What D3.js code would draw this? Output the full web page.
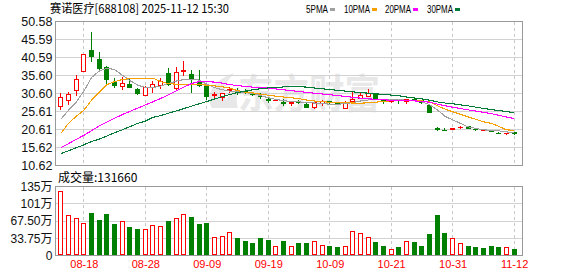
<!DOCTYPE html>
<html><head><meta charset="utf-8">
<script src="https://cdn.jsdelivr.net/npm/d3@7"></script>
<style>body{margin:0;background:#fff}svg{display:block}</style>
</head><body><svg id="c" width="578" height="276"></svg>
<script>
const title = "赛诺医疗[688108] 2025-11-12 15:30";
const volLabel = "成交量:131660";
const maNames = ["5PMA","10PMA","20PMA","30PMA"];
const dates = ["08-13","08-14","08-15","08-18","08-19","08-20","08-21","08-22","08-25","08-26","08-27","08-28","08-29",
"09-01","09-02","09-03","09-04","09-05","09-08","09-09","09-10","09-11","09-12","09-15","09-16","09-17","09-18","09-19","09-22","09-23","09-24","09-25","09-26","09-29","09-30",
"10-09","10-10","10-13","10-14","10-15","10-16","10-17","10-20","10-21","10-22","10-23","10-24","10-27","10-28","10-29","10-30","10-31",
"11-03","11-04","11-05","11-06","11-07","11-10","11-11","11-12"];
const open  = [26.87,28.55,31.34,36.64,42.69,40.18,37.86,33.68,32.28,33.12,31.81,29.94,32.17,32.65,36.2,31.81,36.64,35.91,34.04,32.93,29.94,29.4,31.25,31.06,31.2,30.61,29.94,29.02,28.55,28.27,27.63,28.3,27.8,26.5,27.82,28.4,28.18,26.43,28.27,29.2,29.66,30.42,28.94,28.38,28.9,28.27,29.2,28.74,27.35,21.02,20.6,20.57,21.2,21.49,20.8,20.2,20.57,19.75,19.25,19.9];
const high  = [30.6,31.06,35.71,41.6,47.62,42.0,38.31,34.8,35.24,34.8,32.2,32.6,34.04,34.96,37.58,38.03,39.62,37.11,37.11,33.1,30.89,30.7,32.45,32.0,31.73,30.95,30.61,29.66,29.2,28.94,28.4,28.9,28.0,28.5,28.9,28.6,28.3,28.4,31.06,31.06,31.73,30.6,29.2,29.2,29.0,29.2,29.66,28.9,27.8,21.3,21.02,21.1,21.7,21.6,21.0,20.6,20.6,20.0,19.7,20.0];
const low   = [25.95,27.35,29.94,36.5,39.42,37.2,32.93,32.0,31.53,32.0,30.3,29.8,30.61,31.81,32.65,31.6,35.52,30.61,32.5,28.74,29.4,28.46,30.61,30.12,30.5,29.9,28.94,28.0,28.4,27.2,27.07,27.6,26.6,26.4,27.2,27.6,27.4,26.3,28.1,29.0,29.5,29.0,27.82,27.9,27.6,27.63,28.4,27.7,25.2,20.2,20.2,20.4,20.8,20.7,20.3,20.1,19.8,19.3,19.2,19.2];
const close = [29.66,30.33,34.51,41.49,40.82,37.39,34.32,32.73,33.4,32.0,30.5,32.45,33.12,34.04,32.93,36.64,37.11,34.6,32.73,29.66,30.33,30.61,31.73,30.7,30.65,30.05,29.5,28.55,28.74,27.82,28.27,28.1,26.71,28.27,28.55,28.0,27.63,28.27,28.94,30.12,30.61,29.2,28.55,28.94,28.6,28.94,28.55,28.0,25.2,20.57,20.4,21.02,21.4,20.85,20.5,20.4,19.9,19.55,19.62,19.3];
const volume = [125.8,78.6,72.7,62.9,82.6,68.8,80.6,60.9,68.2,55.0,51.1,51.1,60.3,58.3,66.8,74.0,81.9,74.7,60.9,62.9,35.4,38.7,46.5,33.4,27.5,23.6,33.4,29.5,17.7,27.5,17.7,24.9,24.9,28.8,21.0,17.7,15.7,19.0,48.5,44.6,36.7,26.9,17.7,13.1,15.7,28.8,25.6,17.7,41.3,78.6,43.3,34.7,24.9,17.7,15.7,13.8,17.7,15.7,15.7,13.17];
const ma5  = [23.44,25.95,28.18,31.25,35.02,36.83,37.58,37.25,35.71,34.18,32.93,32.28,32.28,32.65,33.34,34.04,34.46,34.6,34.32,33.2,32.23,31.67,31.25,31.06,30.83,30.61,30.0,29.44,28.94,28.6,28.41,28.27,28.1,27.96,27.82,27.63,27.63,27.77,28.1,28.52,28.8,29.02,29.02,28.94,28.88,28.74,28.66,28.32,27.49,26.09,24.28,23.3,22.33,21.35,20.93,20.51,20.38,20.24,19.96,19.68];
const ma10 = [19.54,22.33,24.28,25.95,28.74,30.97,33.07,33.9,34.46,34.74,34.88,34.88,34.88,33.9,33.34,33.2,33.2,33.2,33.06,32.93,32.7,32.48,32.09,31.39,30.97,30.75,30.42,30.14,29.86,29.63,29.44,29.16,28.8,28.52,28.32,28.18,28.1,28.02,27.96,27.91,28.02,28.18,28.41,28.57,28.6,28.6,28.6,28.52,28.32,27.21,26.29,25.53,24.84,24.14,23.44,22.75,22.33,21.49,20.51,20.38];
const ma20 = [15.55,16.69,17.87,18.98,20.29,21.57,22.66,23.72,24.75,25.65,26.51,27.43,28.32,29.22,30.22,31.31,32.37,33.34,33.9,33.9,33.76,33.48,33.07,32.79,32.56,32.37,32.23,32.09,31.87,31.61,31.39,31.17,30.92,30.69,30.47,30.25,30.03,29.77,29.55,29.33,29.13,28.97,28.85,28.74,28.69,28.63,28.55,28.41,28.18,27.68,27.21,26.79,26.43,26.06,25.73,25.4,25.03,24.56,24.08,23.64];
const ma30 = [13.88,14.71,15.52,16.36,17.28,17.92,18.81,19.71,20.51,21.41,22.3,22.94,23.97,24.47,25.12,25.73,26.4,27.07,27.74,28.38,29.05,29.72,30.33,30.83,31.28,31.64,31.92,32.14,32.28,32.42,32.5,32.5,32.37,32.14,31.92,31.7,31.5,31.28,31.06,30.86,30.69,30.53,30.33,30.16,29.97,29.63,29.38,29.1,28.74,28.27,27.96,27.74,27.46,27.18,26.82,26.46,26.15,25.87,25.59,25.31];
const priceTicks = [10.62,15.62,20.61,25.61,30.60,35.60,40.59,45.59,50.58];
const volTicks = [0,33.75,67.5,101.25,135];
const volTickLabels = ["0","33.75万","67.50万","101万","135万"];
const dateTicks = ["08-18","08-28","09-09","09-19","10-09","10-21","10-31","11-12"];

const L = 55.5, R = 522.5, PT = 21.5, PB = 165.5, VT = 186.5, VB = 255.5;
const RED = "#ff0000", GREEN = "#008000";
const maColors = ["#a0a0a0","#f5a000","#ff00ff","#007a36"];
const svg = d3.select("#c");
const idx = d3.range(dates.length);
const x = d3.scalePoint().domain(dates).range([60.3, 513.6]);
const y = d3.scaleLinear().domain([10.62, 50.58]).range([PB, PT]);
const v = d3.scaleLinear().domain([0, 135]).range([VB, VT]);
const cx = i => Math.round(x(dates[i]));
const snap = val => Math.round(val - 0.5) + 0.5;

// watermark
svg.append("text").attr("x", 238).attr("y", 108).attr("font-size", 40).attr("font-weight", "bold")
  .attr("font-family", "'Noto Sans CJK SC'").attr("fill", "#e8e8e8").attr("textLength", 142)
  .attr("lengthAdjust", "spacingAndGlyphs").text("东方财富");
svg.append("path").attr("d","M212,108 C204,94 214,80 234,73 C223,85 221,96 230,108 Z M222,108 C226,98 232,90 240,86 C236,95 236,102 238,108 Z").attr("fill","#e8e8e8");

// grids
const g = svg.append("g").attr("shape-rendering", "crispEdges");
priceTicks.slice(1, -1).forEach(t => g.append("line").attr("x1", L).attr("x2", R).attr("y1", snap(y(t))).attr("y2", snap(y(t))).attr("stroke", "#d2d2d2"));
volTicks.slice(1, -1).forEach(t => g.append("line").attr("x1", L).attr("x2", R).attr("y1", snap(v(t))).attr("y2", snap(v(t))).attr("stroke", "#d2d2d2"));
dateTicks.forEach(d => {
  const xx = Math.round(x(d)) + 0.5;
  [[PT, PB], [VT, VB]].forEach(([a, b]) => g.append("line").attr("x1", xx).attr("x2", xx).attr("y1", a).attr("y2", b)
    .attr("stroke", "#c8c8c8").attr("stroke-dasharray", "3,3"));
});
g.append("rect").attr("x", L).attr("y", PT).attr("width", R - L).attr("height", PB - PT).attr("fill", "none").attr("stroke", "#999");
g.append("rect").attr("x", L).attr("y", VT).attr("width", R - L).attr("height", VB - VT).attr("fill", "none").attr("stroke", "#999");

// candles
const cg = svg.append("g").attr("shape-rendering", "crispEdges");
idx.forEach(i => {
  const up = close[i] >= open[i];
  const col = up ? RED : GREEN;
  const c = cx(i);
  const top = Math.round(y(Math.max(open[i], close[i])));
  const bot = Math.round(y(Math.min(open[i], close[i])));
  const hi = Math.round(y(high[i])), lo = Math.round(y(low[i]));
  const h = bot - top;
  if (up && h >= 3) {
    if (hi < top) cg.append("line").attr("x1", c + 0.5).attr("x2", c + 0.5).attr("y1", hi).attr("y2", top).attr("stroke", col);
    if (lo > bot) cg.append("line").attr("x1", c + 0.5).attr("x2", c + 0.5).attr("y1", bot).attr("y2", lo).attr("stroke", col);
    cg.append("rect").attr("x", c - 1.5).attr("y", top + 0.5).attr("width", 4).attr("height", h - 1).attr("fill", "#fff").attr("stroke", col);
  } else {
    cg.append("line").attr("x1", c + 0.5).attr("x2", c + 0.5).attr("y1", hi).attr("y2", Math.max(lo, hi + 1)).attr("stroke", col);
    cg.append("rect").attr("x", c - 2).attr("y", top).attr("width", 5).attr("height", Math.max(h, 1)).attr("fill", col);
  }
});

// volume
const vg = svg.append("g").attr("shape-rendering", "crispEdges");
idx.forEach(i => {
  const up = i === 0 ? close[i] >= open[i] : close[i] >= close[i - 1];
  const c = cx(i);
  const top = Math.round(v(volume[i]));
  const base = 255;
  if (up) vg.append("rect").attr("x", c - 1.5).attr("y", top + 0.5).attr("width", 4).attr("height", base - top - 1).attr("fill", "#fff").attr("stroke", RED);
  else vg.append("rect").attr("x", c - 2).attr("y", top).attr("width", 5).attr("height", base - top).attr("fill", GREEN);
});

// MA lines
[ma5, ma10, ma20, ma30].forEach((arr, k) => {
  const line = d3.line().x((d, i) => x(dates[i]) + 0.5).y(d => y(d));
  svg.append("path").attr("d", line(arr)).attr("fill", "none").attr("stroke", maColors[k])
    .attr("stroke-width", 1.1).attr("shape-rendering", "crispEdges");
});

// axes
const fontNum = "'Liberation Sans', Arial, sans-serif";
const ay = svg.append("g").attr("transform", `translate(${L},0)`)
  .call(d3.axisLeft(y).tickValues(priceTicks).tickFormat(d3.format(".2f")).tickSize(0).tickPadding(3));
ay.select(".domain").remove();
ay.selectAll("text").attr("font-size", 12.5).attr("font-family", fontNum).attr("fill", "#111");

const av = svg.append("g").attr("transform", `translate(${L},0)`)
  .call(d3.axisLeft(v).tickValues(volTicks).tickFormat((d, i) => volTickLabels[i]).tickSize(0).tickPadding(3));
av.select(".domain").remove();
av.selectAll("text").attr("font-size", 12).attr("font-family", fontNum + ", 'Noto Sans CJK SC'").attr("fill", "#111");

const ax = svg.append("g").attr("transform", `translate(0.5,${VB + 2})`)
  .call(d3.axisBottom(x).tickValues(dateTicks).tickSize(0).tickPadding(3));
ax.select(".domain").remove();
ax.selectAll("text").attr("font-size", 11).attr("font-family", fontNum).attr("fill", RED);

// title & legend
svg.append("text").attr("x", 50).attr("y", 13).attr("font-size", 12).attr("font-family", "'Noto Sans CJK SC'")
  .attr("textLength", 179).attr("lengthAdjust", "spacingAndGlyphs").attr("fill", "#000").text(title);
const legX = [306, 344, 385, 427], legW = [22, 26, 26, 26];
maNames.forEach((n, k) => {
  svg.append("text").attr("x", legX[k]).attr("y", 12.5).attr("font-size", 11).attr("font-family", fontNum)
    .attr("textLength", legW[k]).attr("lengthAdjust", "spacingAndGlyphs").attr("fill", "#000").text(n);
  svg.append("rect").attr("x", legX[k] + legW[k] + 2).attr("y", 8).attr("width", 5).attr("height", 3).attr("fill", maColors[k]);
});
svg.append("text").attr("x", 58).attr("y", 181.5).attr("font-size", 12).attr("font-family", "'Noto Sans CJK SC'")
  .attr("fill", "#000").text(volLabel);
</script></body></html>
